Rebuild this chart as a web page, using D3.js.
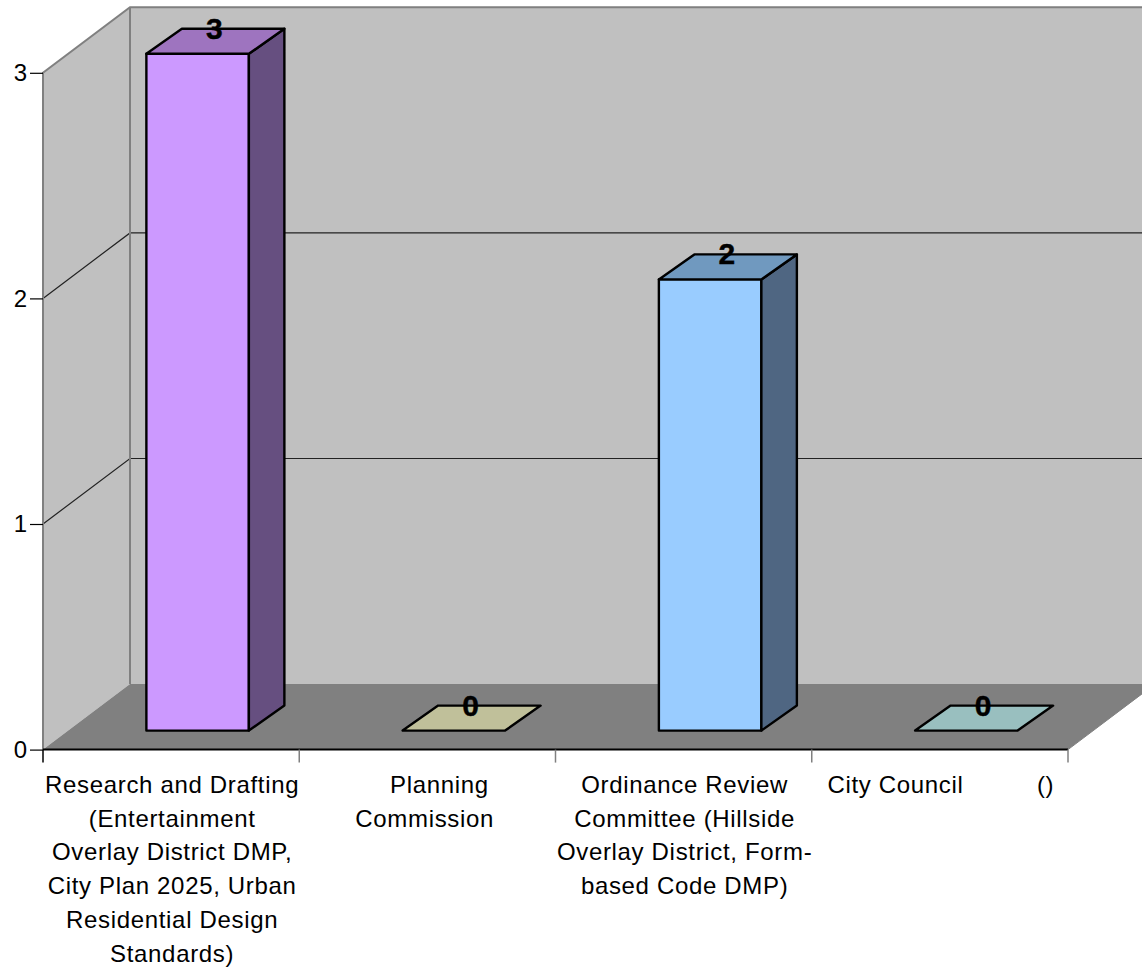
<!DOCTYPE html>
<html><head><meta charset="utf-8">
<script src="https://cdn.jsdelivr.net/npm/d3@7"></script>
<style>html,body{margin:0;padding:0;background:#fff;overflow:hidden}svg{display:block}text{font-family:"Liberation Sans",Arial,sans-serif;white-space:pre;fill:#000}</style>
</head><body><svg id="c" width="1142" height="969"></svg>
<script>
const categories = ["Research and Drafting (Entertainment Overlay District DMP, City Plan 2025, Urban Residential Design Standards)","Planning Commission","Ordinance Review Committee (Hillside Overlay District, Form-based Code DMP)","City Council ()"];
const categoryLines = [
  ["Research and Drafting","(Entertainment","Overlay District DMP,","City Plan 2025, Urban","Residential Design","Standards)"],
  ["   Planning","Commission "],
  ["Ordinance Review","Committee (Hillside","Overlay District, Form-","based Code DMP)"],
  ["City Council          ()"]
];
const values = [3,0,2,0];
const frontColors = ["#CC99FF","#C0C09A","#99CCFF","#99BFBF"];
const topColors = ["#9E74BF","#C0C09A","#7099BF","#99BFBF"];
const sideColors = ["#664F80","#60604D","#4F6682","#4C6060"];
const yTicks = [0,1,2,3];

const svg = d3.select("#c");
const x = d3.scaleBand().domain(d3.range(categories.length)).range([43,1068]);
const y = d3.scaleLinear().domain([0,3]).range([749.6,72.8]);
const W = {dx:87, dy:-65.5}, F = {dx:26.5, dy:-19}, B = {dx:62, dy:-44};
const barW = 102.5;
const line = pts => "M"+pts.map(p=>p.join(",")).join("L")+"Z";
const x0 = x.range()[0], x1 = x.range()[1];

// walls
svg.append("path").attr("d",line([[x0,y(0)],[x0,y(3)],[x0+W.dx,y(3)+W.dy],[x0+W.dx,y(0)+W.dy]])).attr("fill","#C0C0C0");
svg.append("rect").attr("x",x0+W.dx).attr("y",y(3)+W.dy).attr("width",1142-x0-W.dx).attr("height",y(0)-y(3)).attr("fill","#C0C0C0");
svg.append("path").attr("d",line([[x0,y(0)],[x1,y(0)],[x1+W.dx,y(0)+W.dy],[x0+W.dx,y(0)+W.dy]])).attr("fill","#808080");
// grid
[1,2].forEach(v=>{
  svg.append("path").attr("d",`M${x0},${y(v)}L${x0+W.dx},${y(v)+W.dy}L1142,${y(v)+W.dy}`).attr("fill","none").attr("stroke","#222").attr("stroke-width",1.2);
});
// wall borders
svg.append("path").attr("d",`M${x0},${y(0)}L${x0},${y(3)}L${x0+W.dx},${y(3)+W.dy}L1142,${y(3)+W.dy}M${x0+W.dx},${y(3)+W.dy}L${x0+W.dx},${y(0)+W.dy}`).attr("fill","none").attr("stroke","#808080").attr("stroke-width",2);
svg.append("path").attr("d",`M${x1},${y(0)}L${x1+W.dx},${y(0)+W.dy}`).attr("stroke","#808080").attr("stroke-width",1);

// bars
values.forEach((v,i)=>{
  const c = x(i)+x.bandwidth()/2, L = c-barW/2+F.dx, R = L+barW;
  const yb = y(0)+F.dy, yt = y(v)+F.dy, ddx = B.dx-F.dx, ddy = B.dy-F.dy;
  const g = svg.append("g").attr("stroke","#000").attr("stroke-width",2.4).attr("stroke-linejoin","round");
  if(v>0){
    g.append("path").attr("d",line([[L,yb],[R,yb],[R,yt],[L,yt]])).attr("fill",frontColors[i]);
    g.append("path").attr("d",line([[R,yb],[R+ddx,yb+ddy],[R+ddx,yt+ddy],[R,yt]])).attr("fill",sideColors[i]);
  }
  g.append("path").attr("d",line([[L,yt],[R,yt],[R+ddx,yt+ddy],[L+ddx,yt+ddy]])).attr("fill",topColors[i]);
  svg.append("text").attr("x",(L+R+ddx)/2-1).attr("y",yt+ddy+10).attr("text-anchor","middle")
    .attr("font-size",30).attr("font-weight","bold").attr("stroke","#000").attr("stroke-width",0.4).text(v);
});

// axes
const gy = svg.append("g").attr("transform",`translate(${x0},0)`).call(d3.axisLeft(y).tickValues(yTicks).tickFormat(d3.format("d")).tickSize(13).tickPadding(3));
gy.select(".domain").remove();
gy.selectAll("line").attr("stroke","#000").attr("stroke-width",1.2);
gy.selectAll("text").attr("font-size",24).attr("font-family",null);

svg.append("line").attr("x1",x0).attr("x2",x1).attr("y1",y(0)).attr("y2",y(0)).attr("stroke","#000").attr("stroke-width",2);
d3.range(categories.length+1).forEach(i=>{
  const px = i<categories.length? x(i): x1;
  svg.append("line").attr("x1",px).attr("x2",px).attr("y1",y(0)).attr("y2",y(0)+13).attr("stroke",i==0?"#000":"#808080").attr("stroke-width",1.5);
});
const lineH = 33.7;
categoryLines.forEach((ls,i)=>{
  ls.forEach((t,j)=>{
    svg.append("text").attr("x",x(i)+x.bandwidth()/2+1).attr("y",793+j*lineH).attr("text-anchor","middle").attr("font-size",24).attr("letter-spacing",0.67).text(t);
  });
});
</script></body></html>
